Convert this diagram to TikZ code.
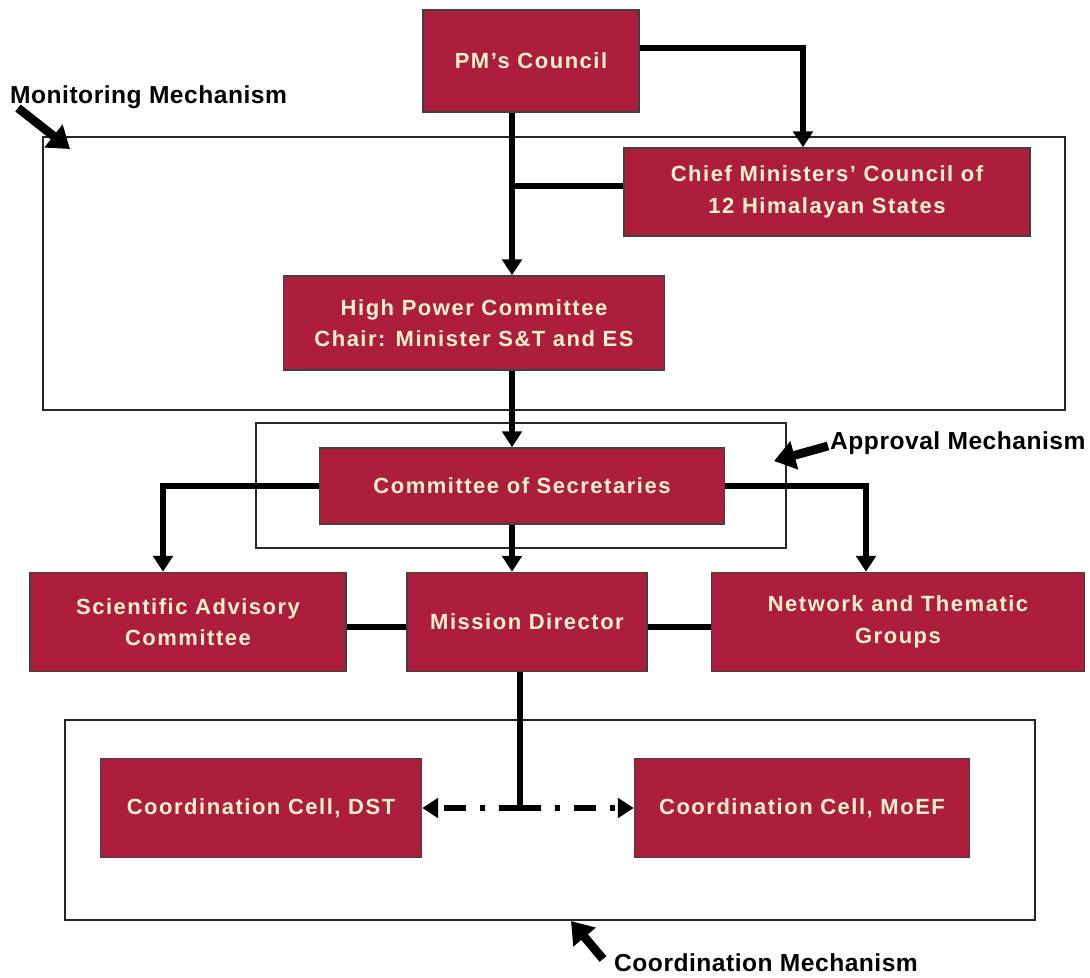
\documentclass[tikz,border=0pt]{standalone}
\usepackage{fontspec}
\setmainfont{Liberation Sans}
\usetikzlibrary{arrows.meta}
\definecolor{boxred}{RGB}{172,30,60}
\definecolor{boxtext}{RGB}{255,242,205}

\begin{document}
\begin{tikzpicture}[x=0.02cm, y=-0.02cm,
    blk/.style={draw=black!75, line width=0.9pt, fill=boxred, text=boxtext,
        font=\bfseries\addfontfeatures{LetterSpace=7}\fontsize{12.5}{18}\selectfont, align=center,
        inner sep=0pt, minimum height=1.98cm},
    link/.style={line width=3.4pt, black},
    feed/.style={link, -{Triangle[length=9pt, width=11pt]}},
    frame/.style={draw=black!85, line width=0.9pt},
    pointer/.style={line width=5pt, -{Triangle[length=12pt, width=16pt]}},
    mech/.style={font=\bfseries\addfontfeatures{LetterSpace=2}\fontsize{14}{16}\selectfont}]
    \useasboundingbox (0,0) rectangle (1090,978);
    % Rahmen
    \draw[frame] (43,137) rectangle (1065,410);
    \draw[frame] (256,423) rectangle (786,548);
    \draw[frame] (65,720) rectangle (1035,920);
    % Kaesten
    \node[blk, minimum width=4.32cm, minimum height=2.04cm] (pm) at (531,61) {PM’s Council};
    \node[blk, minimum width=8.12cm, minimum height=1.76cm] (cmc) at (827,192) {Chief Ministers’ Council of\\12 Himalayan States};
    \node[blk, minimum width=7.62cm, minimum height=1.88cm] (hpc) at (474,323) {High Power Committee\\Chair: Minister S\&T and ES};
    \node[blk, minimum width=8.10cm, minimum height=1.52cm] (cos) at (522,486) {Committee of Secretaries};
    \node[blk, minimum width=6.32cm] (sac) at (188,622) {Scientific Advisory\\Committee};
    \node[blk, minimum width=4.80cm] (md) at (527,622) {Mission Director};
    \node[blk, minimum width=7.46cm] (ntg) at (898,622) {Network and Thematic\\Groups};
    \node[blk, minimum width=6.42cm] (dst) at (261,808) {Coordination Cell, DST};
    \node[blk, minimum width=6.70cm] (moef) at (802,808) {Coordination Cell, MoEF};
    % Verbindungen
    \draw[feed] (pm.south -| 512,0) -- (hpc.north -| 512,0);
    \draw[link] (cmc.west |- 0,186) -- (512,186);
    \draw[feed] (pm.east |- 0,48) -| (cmc.north -| 803,0);
    \draw[feed] (hpc.south -| 512,0) -- (cos.north -| 512,0);
    \draw[feed] (cos.west) -| (sac.north -| 163,0);
    \draw[feed] (cos.east) -| (ntg.north -| 866,0);
    \draw[feed] (cos.south -| 512,0) -- (md.north -| 512,0);
    \draw[link] (sac.east |- 0,627) -- (md.west |- 0,627);
    \draw[link] (md.east |- 0,627) -- (ntg.west |- 0,627);
    \coordinate (split) at (520,808);
    \draw[link] (md.south -| split) -- (split);
    \draw[link, dash pattern=on 12pt off 8pt on 3pt off 8pt, -{Triangle[length=9pt, width=11pt]}] (split) -- (dst.east);
    \draw[link, dash pattern=on 12pt off 8pt on 3pt off 8pt, -{Triangle[length=9pt, width=11pt]}] (split) -- (moef.west);
    % Beschriftungen
    \node[mech, anchor=west] (monlbl) at (4,97) {Monitoring Mechanism};
    \node[mech, anchor=west] (applbl) at (824,443) {Approval Mechanism};
    \node[mech, anchor=west] (coolbl) at (608,963) {Coordination Mechanism};
    \coordinate (montip) at (70,149);
    \coordinate (apptip) at (774,461);
    \coordinate (cootip) at (571,921);
    \draw[pointer] (18,108) -- (montip);
    \draw[pointer] (828,446) -- (apptip);
    \draw[pointer] (603,959) -- (cootip);
\end{tikzpicture}
\end{document}
